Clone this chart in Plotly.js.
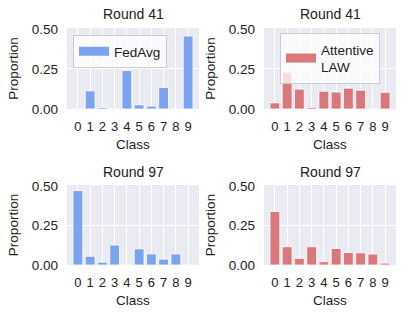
<!DOCTYPE html>
<html>
<head>
<meta charset="utf-8">
<script src="https://cdn.plot.ly/plotly-3.0.1.min.js"></script>
<style>html,body{margin:0;padding:0;background:#fff;}#chart{width:407px;height:318px;}</style>
</head>
<body>
<div id="chart"></div>
<script>
const classes = ["0","1","2","3","4","5","6","7","8","9"];
const fedavgRound41 = [0.0, 0.113, 0.010, 0.0, 0.240, 0.026, 0.018, 0.135, 0.0, 0.455];
const lawRound41    = [0.038, 0.230, 0.124, 0.010, 0.111, 0.106, 0.130, 0.117, 0.003, 0.104];
const fedavgRound97 = [0.470, 0.055, 0.018, 0.126, 0.0, 0.102, 0.070, 0.037, 0.070, 0.003];
const lawRound97    = [0.338, 0.115, 0.042, 0.115, 0.021, 0.104, 0.079, 0.077, 0.069, 0.012];
const panelTitles = ["Round 41", "Round 41", "Round 97", "Round 97"];
const seriesNames = ["FedAvg", "Attentive<br>LAW"];
const yTicks = [0, 0.25, 0.5];
const yTickText = ["0.00", "0.25", "0.50"];

const blue = "#7ba3ef";
const red = "#d9777a";
const font = "Liberation Sans, Arial, sans-serif";

function bar(y, color, xa, ya) {
  return {type: "bar", x: classes, y: y, xaxis: xa, yaxis: ya,
    marker: {color: color, line: {color: "rgba(255,255,255,0.8)", width: 1}},
    width: 0.8, showlegend: false, hoverinfo: "skip"};
}
function legendItem(name, color, lg) {
  return {type: "scatter", mode: "lines", x: [null], y: [null], name: name,
    line: {color: color, width: 9}, legend: lg, showlegend: true, hoverinfo: "skip"};
}

const data = [
  bar(fedavgRound41, blue, "x", "y"),
  bar(lawRound41, red, "x2", "y2"),
  bar(fedavgRound97, blue, "x3", "y3"),
  bar(lawRound97, red, "x4", "y4"),
  legendItem(seriesNames[0], blue, "legend"),
  legendItem(seriesNames[1], red, "legend2")
];

const H = 318, W = 407;
const colX = [[67/W, 199/W], [264/W, 396/W]];
const rowY = [[1-109/H, 1-28/H], [1-265/H, 1-185/H]];

function xax(dom, anchor) {
  return {domain: dom, anchor: anchor, type: "category", range: [-0.89, 9.89],
    tickmode: "array", tickvals: classes, ticktext: classes, tickangle: 0,
    showgrid: true, gridcolor: "#ffffff", gridwidth: 1, zeroline: false,
    showline: false, ticks: "", ticklabelstandoff: 8,
    tickfont: {family: font, size: 13, color: "#222"},
    title: {text: "Class", font: {family: font, size: 13.5, color: "#222"}, standoff: 6}};
}
function yax(dom, anchor) {
  return {domain: dom, anchor: anchor, range: [0, 0.505],
    tickvals: yTicks, ticktext: yTickText,
    showgrid: true, gridcolor: "#ffffff", gridwidth: 1, zeroline: false,
    showline: false, ticks: "", ticklabelstandoff: 8,
    tickfont: {family: font, size: 13.5, color: "#222"},
    title: {text: "Proportion", font: {family: font, size: 13.5, color: "#222"}, standoff: 9}};
}

const annotations = [];
const centers = [[(67+199)/2/W, 1-14/H], [(264+396)/2/W, 1-14/H], [(67+199)/2/W, 1-172/H], [(264+396)/2/W, 1-172/H]];
panelTitles.forEach((t, i) => {
  annotations.push({text: t, xref: "paper", yref: "paper", x: centers[i][0], y: centers[i][1],
    xanchor: "center", yanchor: "middle", showarrow: false,
    font: {family: font, size: 14, color: "#222"}});
});

const layout = {
  width: W, height: H,
  margin: {l: 0, r: 0, t: 0, b: 0},
  paper_bgcolor: "#ffffff",
  plot_bgcolor: "#eaeaf2",
  bargap: 0.2,
  font: {family: font, color: "#222"},
  xaxis: xax(colX[0], "y"), yaxis: yax(rowY[0], "x"),
  xaxis2: xax(colX[1], "y2"), yaxis2: yax(rowY[0], "x2"),
  xaxis3: xax(colX[0], "y3"), yaxis3: yax(rowY[1], "x3"),
  xaxis4: xax(colX[1], "y4"), yaxis4: yax(rowY[1], "x4"),
  legend: {x: 73/W, y: 1-35/H, xanchor: "left", yanchor: "top",
    bgcolor: "rgba(255,255,255,0.75)", bordercolor: "#cccccc", borderwidth: 1,
    font: {family: font, size: 13.5, color: "#222"}},
  legend2: {x: 280/W, y: 1-33/H, xanchor: "left", yanchor: "top",
    bgcolor: "rgba(255,255,255,0.75)", bordercolor: "#cccccc", borderwidth: 1,
    font: {family: font, size: 13.5, color: "#222"}},
  annotations: annotations
};

Plotly.newPlot("chart", data, layout, {staticPlot: true, displayModeBar: false});
</script>
</body>
</html>
